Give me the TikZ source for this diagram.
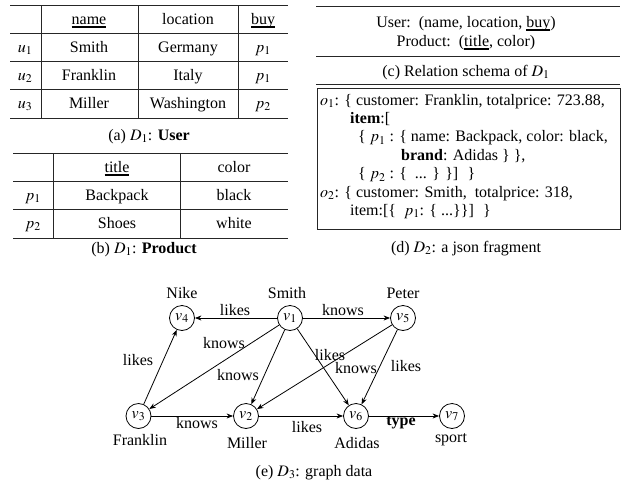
\documentclass[tikz,border=0pt]{standalone}
\usepackage{mathptmx}
\usepackage{fontspec}
\setmainfont{Liberation Serif}
\usetikzlibrary{arrows.meta}
\newcommand{\fs}{\fontsize{16}{19}\selectfont}
\newcommand{\myul}[1]{\setbox0\hbox{#1}\rlap{\rule[-3pt]{\wd0}{1.3pt}}\box0}
\begin{document}
\begin{tikzpicture}[x=1pt,y=-1pt,
  every node/.style={font=\fs, inner sep=0pt},
  txt/.style={anchor=base},
  txtw/.style={anchor=base west},
  rulel/.style={line width=1pt, black!85},
  vtx/.style={circle, draw, line width=0.8pt, minimum size=25pt, inner sep=0pt},
  arr/.style={-{Stealth[length=6.5pt,width=5pt]}, line width=0.8pt}]
\useasboundingbox (0,0) rectangle (624,485);

% ---------- (a) User table
\foreach \yy in {5,33,61,89,118} \draw[rulel] (10,\yy) -- (288,\yy);
\foreach \xx in {41,138,238} \draw[rulel] (\xx,5) -- (\xx,118);
\node[txt] (ah1) at (89,24.5) {\myul{name}};
\node[txt] (ah2) at (188,24.5) {location};
\node[txt] (ah3) at (263,24.5) {\myul{buy}};
\node[txt] (au1) at (25,52.5) {$u_1$};
\node[txt] (au2) at (25,80.5) {$u_2$};
\node[txt] (au3) at (25,108.5) {$u_3$};
\node[txt] (an1) at (89,52.5) {Smith};
\node[txt] (an2) at (89,80.5) {Franklin};
\node[txt] (an3) at (89,108.5) {Miller};
\node[txt] (al1) at (188,52.5) {Germany};
\node[txt] (al2) at (188,80.5) {Italy};
\node[txt] (al3) at (188,108.5) {Washington};
\node[txt] (ab1) at (263,52.5) {$p_1$};
\node[txt] (ab2) at (263,80.5) {$p_1$};
\node[txt] (ab3) at (263,108.5) {$p_2$};
\node[txt] (acap) at (149,140) {(a) $D_1$: \textbf{User}};

% ---------- (b) Product table
\foreach \yy in {153,181,209,238} \draw[rulel] (13,\yy) -- (288,\yy);
\foreach \xx in {53,180} \draw[rulel] (\xx,153) -- (\xx,238);
\node[txt] (bh1) at (117,172.5) {\myul{title}};
\node[txt] (bh2) at (234,172.5) {color};
\node[txt] (bp1) at (33,200.5) {$p_1$};
\node[txt] (bp2) at (33,228.5) {$p_2$};
\node[txt] (bt1) at (117,200.5) {Backpack};
\node[txt] (bt2) at (117,228.5) {Shoes};
\node[txt] (bc1) at (234,200.5) {black};
\node[txt] (bc2) at (234,228.5) {white};
\node[txt] (bcap) at (144,253) {(b) $D_1$: \textbf{Product}};

% ---------- (c) Relation schema
\foreach \yy in {6,56,84} \draw[rulel] (316,\yy) -- (620,\yy);
\node[txt] (c1) at (466,27.5) {User:\ \ (name, location, \myul{buy})};
\node[txt] (c2) at (466,46.5) {Product:\ \ (\myul{title}, color)};
\node[txt] (ccap) at (466,76) {(c) Relation schema of $D_1$};

% ---------- (d) json fragment
\draw[line width=1pt, black!85] (317,88) rectangle (620,229);
\node[txtw] (d1) at (320,105) {$o_1$: \{ customer: Franklin, totalprice: 723.88,};
\node[txtw] (d2) at (350,123.4) {\textbf{item}:[};
\node[txtw] (d3) at (358,141.8) {\{ $p_1$ : \{ name: Backpack, color: black,};
\node[txtw] (d4) at (401,160.2) {\textbf{brand}: Adidas \} \},};
\node[txtw] (d5) at (358,178.6) {\{ $p_2$ : \{ \ ... \} \}] \ \}};
\node[txtw] (d6) at (320,197) {$o_2$: \{ customer: Smith, \ totalprice: 318,};
\node[txtw] (d7) at (350,215.4) {item:[\{ \ $p_1$: \{ ...\}\}] \ \}};
\node[txt] (dcap) at (466,252) {(d) $D_2$: a json fragment};

% ---------- (e) graph
\node[vtx] (v4) at (182,318) {$v_4$};
\node[vtx] (v1) at (290,318) {$v_1$};
\node[vtx] (v5) at (403,318) {$v_5$};
\node[vtx] (v3) at (138.5,416) {$v_3$};
\node[vtx] (v2) at (246,416) {$v_2$};
\node[vtx] (v6) at (356,416) {$v_6$};
\node[vtx] (v7) at (452,416) {$v_7$};

\node[txt] (lnike) at (182,298) {Nike};
\node[txt] (lsmith) at (287,298) {Smith};
\node[txt] (lpeter) at (403,298) {Peter};
\node[txt] (lfrank) at (140,445) {Franklin};
\node[txt] (lmill) at (247,448) {Miller};
\node[txt] (ladid) at (357,448) {Adidas};
\node[txt] (lsport) at (451,442) {sport};

\draw[arr] (v1) -- (v4);
\draw[arr] (v1) -- (v5);
\draw[arr] (v3) -- (v4);
\draw[arr] (v1) -- (v3);
\draw[arr] (v1) -- (v2);
\draw[arr] (v1) -- (v6);
\draw[arr] (v5) -- (v2);
\draw[arr] (v5) -- (v6);
\draw[arr] (v3) -- (v2);
\draw[arr] (v2) -- (v6);
\draw[arr] (v6) -- (v7);

\node[txt] (e14) at (235,315) {likes};
\node[txt] (e15) at (343,315) {knows};
\node[txt] (e34) at (138,365) {likes};
\node[txt] (e13) at (224,348) {knows};
\node[txt] (e12) at (238,380) {knows};
\node[txt] (e16) at (330,360) {likes};
\node[txt] (e52) at (356,373) {knows};
\node[txt] (e56) at (406,371) {likes};
\node[txt] (e32) at (197,428) {knows};
\node[txt] (e26) at (307,432) {likes};
\node[txt] (e67) at (401,425) {\textbf{type}};

\node[txt] (ecap) at (314,476) {(e) $D_3$: graph data};
\end{tikzpicture}
\end{document}
